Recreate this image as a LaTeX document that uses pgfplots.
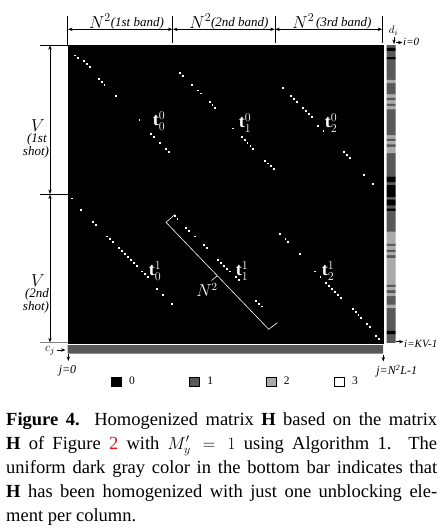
\documentclass[border=0pt]{standalone}
\usepackage{pgfplots}
\pgfplotsset{compat=1.18}
\usepackage{fontspec}
\setmainfont{Liberation Serif}
\usetikzlibrary{arrows.meta}
\definecolor{gOne}{RGB}{88,88,88}
\definecolor{gTwo}{RGB}{170,170,170}
\definecolor{linkred}{RGB}{235,20,20}
\begin{document}
\begin{tikzpicture}[>={Stealth[length=4.5pt,width=3.4pt]}]
\useasboundingbox (0pt,0pt) rectangle (446pt,-531pt);

% ---------------- main matrix H (columns 0..107, rows 0..101) ----------------
\begin{axis}[at={(67.7pt,-342.7pt)},anchor=south west,scale only axis,
  width=315.3pt,height=297.7pt,
  xmin=-0.5,xmax=107.5,ymin=-0.5,ymax=101.5,y dir=reverse,
  axis background/.style={fill=black},axis line style={draw=black},
  xtick=\empty,ytick=\empty]
\addplot[only marks,mark=square*,mark size=1.45pt,mark options={fill=white,draw=none}]
coordinates {
% shot 1, band 1
(2,3) (3,4) (5,5) (6,6) (7,7) (10,11) (11,12) (12,13) (16,17) (24,25)
(28,30) (29,31) (31,33) (33,35) (34,36)
% shot 1, band 2
(38,9) (39,10) (42,13) (44,15) (45,16) (48,19) (49,20) (50,21) (56,28)
(59,31) (60,32) (61,33) (62,34) (63,35) (67,39) (68,40) (69,41) (70,42)
% shot 1, band 3
(73,14) (76,17) (77,18) (78,19) (80,21) (81,22) (82,23) (83,24) (85,27)
(87,29) (94,36) (95,37) (96,38) (101,44) (104,47)
% shot 2, band 1
(1,52) (4,56) (8,60) (9,61) (13,65) (14,66) (15,67) (17,69) (18,70) (19,71)
(20,72) (21,73) (22,74) (23,75) (25,77) (26,78) (27,79) (30,83) (32,85) (35,88)
% shot 2, band 2
(36,58) (37,59) (40,62) (41,63) (43,65) (46,68) (47,69) (51,73) (52,74)
(53,75) (54,76) (55,77) (57,79) (58,80) (64,87) (65,88) (66,89)
% shot 2, band 3
(72,64) (74,66) (75,67) (79,71) (84,77) (86,79) (88,81) (89,82) (90,83)
(91,84) (92,85) (93,86) (97,90) (98,91) (99,92) (100,93) (102,95) (103,96)
(105,99) (106,100)
};
\end{axis}

% ---------------- d_i bar (one value per row) ----------------
\begin{axis}[at={(386.5pt,-342.7pt)},anchor=south west,scale only axis,
  width=9pt,height=297.7pt,xmin=0,xmax=1,ymin=-0.5,ymax=101.5,y dir=reverse,
  hide axis]
% value 1 (dark gray)
\addplot[xbar,bar width=1.04,bar shift=0pt,fill=gOne,draw=none] coordinates {
(1,0) (1,2) (1,3) (1,5) (1,6) (1,7) (1,8) (1,9) (1,10) (1,11) (1,13) (1,14)
(1,15) (1,16) (1,18) (1,20) (1,22) (1,23) (1,24) (1,25) (1,26) (1,27) (1,28)
(1,29) (1,30) (1,32) (1,34) (1,37) (1,38) (1,39) (1,40) (1,41) (1,42) (1,43)
(1,44) (1,47) (1,52) (1,55) (1,57) (1,58) (1,59) (1,60) (1,61) (1,62) (1,63)
(1,68) (1,70) (1,72) (1,82) (1,84) (1,86) (1,87) (1,88) (1,90) (1,91) (1,92)
(1,93) (1,94) (1,95) (1,96) (1,97) (1,99) (1,100) (1,101)};
% value 0 (black)
\addplot[xbar,bar width=1.04,bar shift=0pt,fill=black,draw=none] coordinates {
(1,1) (1,4) (1,45) (1,46) (1,48) (1,49) (1,50) (1,51) (1,53) (1,54) (1,56) (1,98)};
% value 2 (light gray)
\addplot[xbar,bar width=1.04,bar shift=0pt,fill=gTwo,draw=none] coordinates {
(1,12) (1,17) (1,19) (1,21) (1,31) (1,33) (1,35) (1,36) (1,64) (1,65) (1,66)
(1,67) (1,69) (1,71) (1,73) (1,74) (1,75) (1,76) (1,77) (1,78) (1,79) (1,80)
(1,81) (1,83) (1,85) (1,89)};
\end{axis}

% ---------------- c_j bar (one value per column) + legend ----------------
\begin{axis}[at={(67.7pt,-353.5pt)},anchor=south west,scale only axis,
  width=315.3pt,height=8.5pt,xmin=-0.5,xmax=107.5,ymin=0,ymax=1,hide axis,
  legend image code/.code={\draw[#1] (0pt,-4.8pt) rectangle (9.8pt,4.8pt);},
  legend columns=4,
  legend style={draw=none,fill=none,at={(0.1373,-3.32)},anchor=west,
    inner sep=0pt,outer sep=0pt,
    nodes={inner sep=0pt,anchor=west,font=\fontsize{11.5}{13}\selectfont},
    /tikz/every odd column/.append style={column sep=8pt}}]
\addplot[ybar,bar width=1.04,bar shift=0pt,fill=gOne,draw=none,forget plot] coordinates {
(0,1) (1,1) (2,1) (3,1) (4,1) (5,1) (6,1) (7,1) (8,1) (9,1) (10,1) (11,1)
(12,1) (13,1) (14,1) (15,1) (16,1) (17,1) (18,1) (19,1) (20,1) (21,1) (22,1)
(23,1) (24,1) (25,1) (26,1) (27,1) (28,1) (29,1) (30,1) (31,1) (32,1) (33,1)
(34,1) (35,1) (36,1) (37,1) (38,1) (39,1) (40,1) (41,1) (42,1) (43,1) (44,1)
(45,1) (46,1) (47,1) (48,1) (49,1) (50,1) (51,1) (52,1) (53,1) (54,1) (55,1)
(56,1) (57,1) (58,1) (59,1) (60,1) (61,1) (62,1) (63,1) (64,1) (65,1) (66,1)
(67,1) (68,1) (69,1) (70,1) (71,1) (72,1) (73,1) (74,1) (75,1) (76,1) (77,1)
(78,1) (79,1) (80,1) (81,1) (82,1) (83,1) (84,1) (85,1) (86,1) (87,1) (88,1)
(89,1) (90,1) (91,1) (92,1) (93,1) (94,1) (95,1) (96,1) (97,1) (98,1) (99,1)
(100,1) (101,1) (102,1) (103,1) (104,1) (105,1) (106,1) (107,1)};
\addlegendimage{fill=black,draw=black}
\addlegendentry{\makebox[59.9pt][l]{0}}
\addlegendimage{fill=gOne,draw=black}
\addlegendentry{\makebox[58.5pt][l]{1}}
\addlegendimage{fill=gTwo,draw=black}
\addlegendentry{\makebox[49.9pt][l]{2}}
\addlegendimage{fill=white,draw=black}
\addlegendentry{\makebox[6pt][l]{3}}
\end{axis}

\begin{scope}[x=1pt,y=1pt]
% ---------------- annotations ----------------
\begin{scope}[line width=0.6pt]
% top band markers
\draw (67.7,-16)--(67.7,-45);
\draw (172.7,-16)--(172.7,-43);
\draw (275,-16)--(275,-43);
\draw (382.5,-16)--(382.5,-43);
\draw[<->] (68,-29.3)--(172.4,-29.3);
\draw[<->] (173,-29.3)--(274.7,-29.3);
\draw[<->] (275.3,-29.3)--(382.2,-29.3);
% left shot markers
\draw (40,-45)--(67.7,-45);
\draw (40,-194.3)--(67.7,-194.3);
\draw[gray] (40,-342.7)--(67.7,-342.7);
\draw[<->] (50,-45.3)--(50,-194);
\draw[<->] (50,-194.6)--(50,-342.4);
% d_i and c_j pointers
\draw[->] (394,-36.5)--(394,-44);
\draw[->] (396,-42.5)--(402.5,-42.5);
\draw[->] (396,-341.7)--(403.5,-341.7);
\draw[->] (56.5,-350)--(65.5,-350);
\draw[->] (68.3,-354)--(68.3,-361);
\draw[->] (383.3,-354.5)--(383.3,-361.5);
\end{scope}

\begin{scope}[font=\fontsize{11}{13}\selectfont]
\node[anchor=base] at (126.5,-28) {{\fontsize{17}{17}\selectfont$N^2$}\raisebox{2pt}{\fontsize{13}{13}\selectfont\textit{(1st band)}}};
\node[anchor=base] at (229,-28) {{\fontsize{17}{17}\selectfont$N^2$}\raisebox{2pt}{\fontsize{13}{13}\selectfont\textit{(2nd band)}}};
\node[anchor=base] at (332,-28) {{\fontsize{17}{17}\selectfont$N^2$}\,\raisebox{2pt}{\fontsize{13}{13}\selectfont\textit{(3rd band)}}};
\node[anchor=base,inner sep=0pt] at (38,-131.5) {\fontsize{17}{17}\selectfont$V$};
\node[anchor=base,inner sep=0pt,font=\fontsize{13}{13}\selectfont] at (37,-142) {\textit{(1st}};
\node[anchor=base,inner sep=0pt,font=\fontsize{13}{13}\selectfont] at (36,-155.5) {\textit{shot)}};
\node[anchor=base,inner sep=0pt] at (38,-286.5) {\fontsize{17}{17}\selectfont$V$};
\node[anchor=base,inner sep=0pt,font=\fontsize{13}{13}\selectfont] at (37,-297) {\textit{(2nd}};
\node[anchor=base,inner sep=0pt,font=\fontsize{13}{13}\selectfont] at (36,-310.5) {\textit{shot)}};
\node at (393.5,-31) {$d_i$};
\node[anchor=west,inner sep=0pt] at (403,-41.5) {\textit{i=0}};
\node[anchor=west,inner sep=0pt] at (404,-343.5) {\textit{i=KV-1}};
\node at (50,-351) {\fontsize{13}{13}\selectfont$c_j$};
\node[font=\fontsize{12}{13}\selectfont] at (67.5,-371) {\textit{j=0}};
\node[font=\fontsize{12}{13}\selectfont] at (396.7,-371) {\textit{j=N\textsuperscript{2}L-1}};
\end{scope}

% labels inside the matrix
\begin{scope}[white,font=\fontsize{18}{18}\selectfont]
\node at (159,-121) {$\mathbf{t}_0^0$};
\node at (245,-123) {$\mathbf{t}_1^0$};
\node at (331,-123) {$\mathbf{t}_2^0$};
\node at (155,-271) {$\mathbf{t}_0^1$};
\node at (242,-271) {$\mathbf{t}_1^1$};
\node at (328,-271) {$\mathbf{t}_2^1$};
\draw[line width=0.6pt] (175,-214.5)--(166,-222.3)--(268.7,-329.3)--(277.3,-322.7);
\draw[line width=0.6pt] (211.5,-280.5)--(217,-276);
\node at (207,-290) {\fontsize{16}{16}\selectfont$N^2$};
\end{scope}

% caption
\begin{scope}[font=\fontsize{18.5}{24}\selectfont]
\node[anchor=base west,inner sep=0pt] at (6,-425) {\makebox[431pt][s]{\textbf{Figure 4.} Homogenized matrix \textbf{H} based on the matrix}};
\node[anchor=base west,inner sep=0pt] at (6,-449) {\makebox[431pt][s]{\textbf{H} of Figure \textcolor{linkred}{2} with $M'_y = 1$ using Algorithm 1. The}};
\node[anchor=base west,inner sep=0pt] at (6,-473) {\makebox[431pt][s]{uniform dark gray color in the bottom bar indicates that}};
\node[anchor=base west,inner sep=0pt] at (6,-497) {\makebox[431pt][s]{\textbf{H} has been homogenized with just one unblocking ele-}};
\node[anchor=base west,inner sep=0pt] at (6,-521) {ment per column.};
\end{scope}
\end{scope}
\end{tikzpicture}
\end{document}
